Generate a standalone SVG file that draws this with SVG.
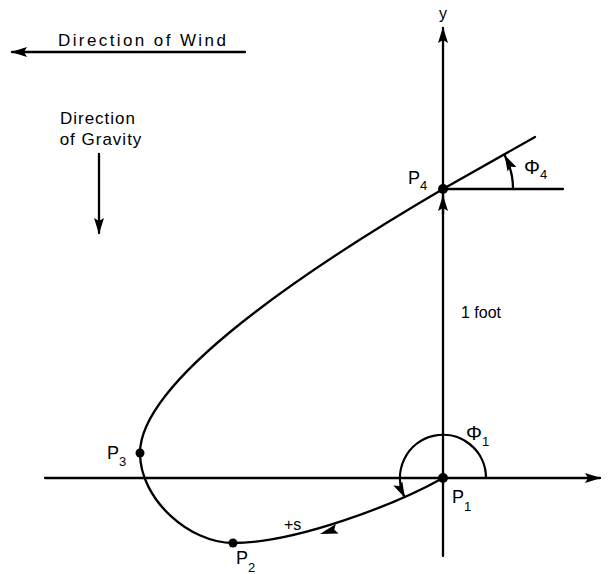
<svg xmlns="http://www.w3.org/2000/svg" width="611" height="574" viewBox="0 0 611 574">
<style>
.ln{stroke:#000;stroke-width:2.3;fill:none;stroke-linecap:round}
.t{font-family:"Liberation Sans",Arial,sans-serif;font-size:16px;fill:#000}
.w{font-size:17px}
.lb{font-size:18px}
.s{font-size:13px}
.ph{font-size:20px}
</style>
<defs>
<marker id="ah" viewBox="0 0 16 10" refX="15" refY="5" markerWidth="16" markerHeight="10" markerUnits="userSpaceOnUse" orient="auto">
<path d="M0,0 L16,5 L0,10 L3,5 Z" fill="#000"/>
</marker>
</defs>
<rect width="611" height="574" fill="#fff"/>
<g id="connectors">
<line class="ln" x1="245" y1="52" x2="12" y2="52" marker-end="url(#ah)"/>
<line class="ln" x1="99" y1="154" x2="99" y2="233" marker-end="url(#ah)"/>
<line class="ln" x1="45" y1="478" x2="600" y2="478" marker-end="url(#ah)"/>
<line class="ln" x1="443" y1="556" x2="443" y2="28" marker-end="url(#ah)"/>
<line class="ln" x1="443" y1="214" x2="443" y2="196" marker-end="url(#ah)"/>
<line class="ln" x1="443" y1="189" x2="563" y2="189"/>
<path class="ln" d="M443,478 C395,505 295,543 233,543 C190,543 140,500 140,453 C140,380 308,268 443,189 L535,137"/>
<path d="M320,534 L335.8,524 L334.3,529.7 L338.6,533.6 Z" fill="#000"/>
<path class="ln" d="M513,189 A70,70 0 0 0 505,156" marker-end="url(#ah)"/>
<path class="ln" d="M486,478 A43,43 0 1 0 404.4,496.8" marker-end="url(#ah)"/>
</g>
<g id="wind"><text class="t w" x="58" y="46" letter-spacing="2.4">Direction of Wind</text></g>
<g id="gravity">
<text class="t w" x="98" y="124" text-anchor="middle" letter-spacing="1">Direction</text>
<text class="t w" x="101" y="145" text-anchor="middle" letter-spacing="1">of Gravity</text>
</g>
<g id="yaxis"><text class="t" x="443" y="19" text-anchor="middle">y</text></g>
<g id="foot"><text class="t" x="461" y="318">1 foot</text></g>
<g id="P1"><circle cx="443" cy="478" r="5"/><text class="t lb" x="452" y="503">P<tspan class="s" dy="8">1</tspan></text></g>
<g id="P2"><circle cx="233" cy="543" r="4.5"/><text class="t lb" x="236" y="564">P<tspan class="s" dy="8">2</tspan></text></g>
<g id="P3"><circle cx="140" cy="453" r="4.5"/><text class="t lb" x="107" y="459">P<tspan class="s" dy="7">3</tspan></text></g>
<g id="P4"><circle cx="443" cy="189" r="5"/><text class="t lb" x="408" y="184">P<tspan class="s" dy="6">4</tspan></text></g>
<g id="phi4"><text class="t ph" x="524" y="174">Φ<tspan class="s" dy="5">4</tspan></text></g>
<g id="phi1"><text class="t ph" x="466" y="440">Φ<tspan class="s" dy="6">1</tspan></text></g>
<g id="s"><text class="t" x="284" y="530">+s</text></g>
</svg>
